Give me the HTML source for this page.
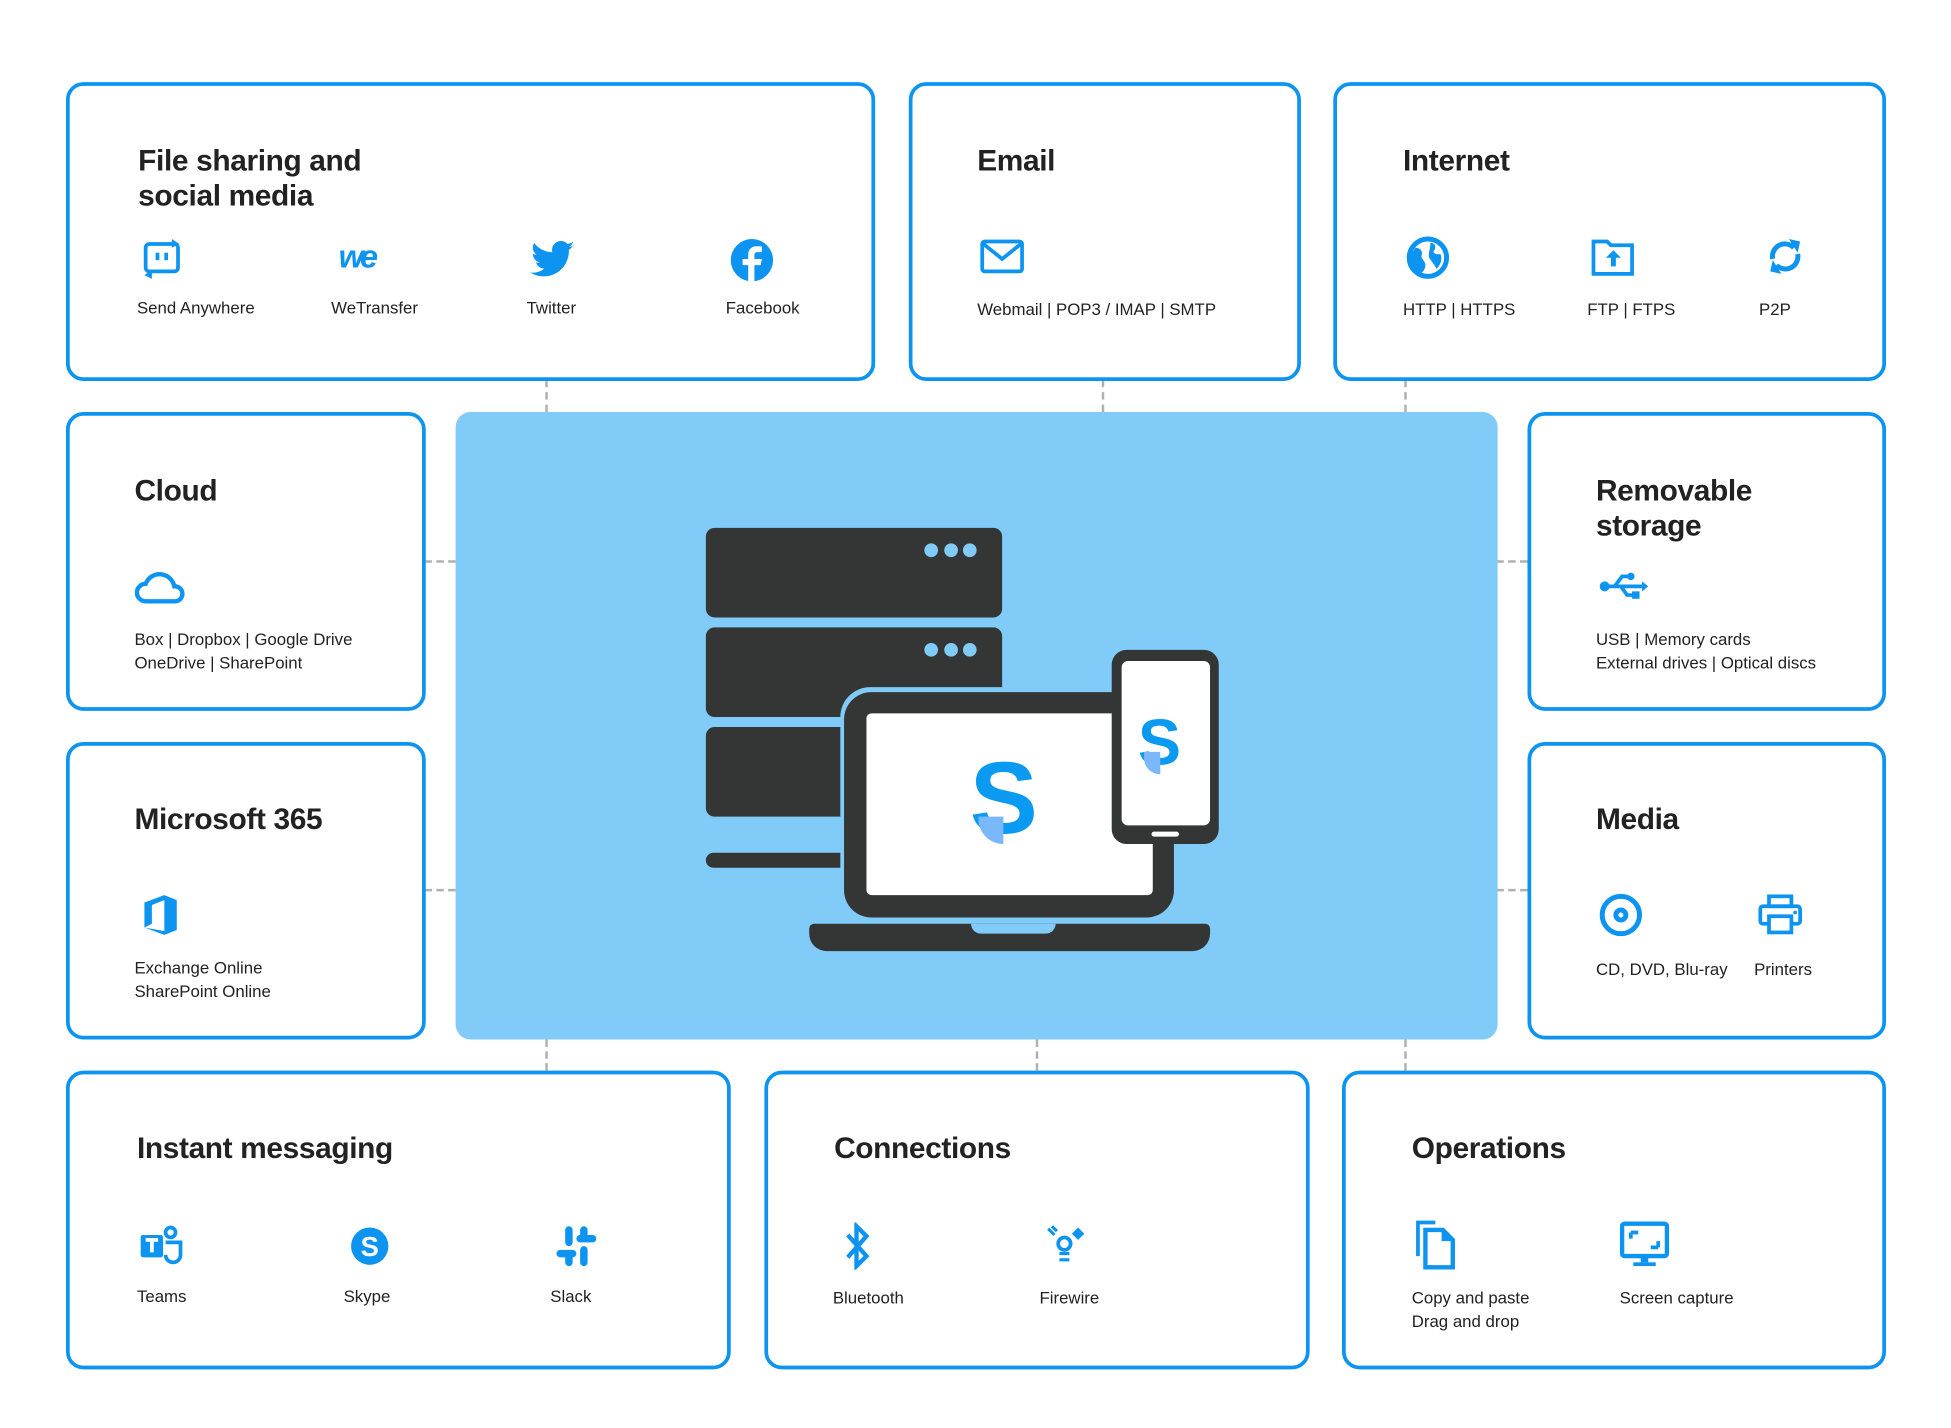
<!DOCTYPE html>
<html><head><meta charset="utf-8"><style>
html,body{margin:0;padding:0;background:#fff;width:1951px;height:1428px;overflow:hidden}
#w{position:absolute;left:0;top:0;width:1560px;height:1142px;transform:scale(1.2449);transform-origin:0 0;font-family:"Liberation Sans",sans-serif;color:#222}
.b{position:absolute;border:3px solid #0d94f0;border-radius:14px;box-sizing:border-box;background:#fff}
.t{position:absolute;font-size:24px;font-weight:bold;line-height:28px;letter-spacing:-0.3px}
.l{position:absolute;font-size:13.5px;line-height:19px;white-space:nowrap}
.i{position:absolute}
.dv{position:absolute;width:0;border-left:2px dashed #b0b0b0}
.dh{position:absolute;height:0;border-top:2px dashed #b0b0b0}
.k{position:absolute;background:#343636}
</style></head><body><div id="w">
<div class="dv" style="left:438px;top:305px;height:26px"></div>
<div class="dv" style="left:885px;top:305px;height:26px"></div>
<div class="dv" style="left:1128px;top:305px;height:26px"></div>
<div class="dv" style="left:438px;top:835px;height:25px"></div>
<div class="dv" style="left:832px;top:835px;height:25px"></div>
<div class="dv" style="left:1128px;top:835px;height:25px"></div>
<div class="dh" style="left:341px;top:450px;width:25px"></div>
<div class="dh" style="left:341px;top:714px;width:25px"></div>
<div class="dh" style="left:1202px;top:450px;width:25px"></div>
<div class="dh" style="left:1202px;top:714px;width:25px"></div>

<div class="b" style="left:53px;top:66px;width:650px;height:240px"></div>
<div class="t" style="left:111px;top:116px">File sharing and<br>social media</div>
<svg class="i" style="left:114px;top:191px" width="34" height="34" viewBox="0 0 34 34"><rect x="3" y="5" width="26" height="22" rx="3" fill="none" stroke="#0d94f0" stroke-width="3"/><rect x="11" y="12" width="3" height="6" fill="#0d94f0"/><rect x="18" y="12" width="3" height="6" fill="#0d94f0"/><path d="M24 1l6 4-6 3z M8 26l-6 4 6 3z" fill="#0d94f0"/></svg>
<div class="l" style="left:110px;top:238px">Send Anywhere</div>
<div class="i" style="left:272px;top:191px;font-size:26px;font-weight:bold;color:#0d94f0;letter-spacing:-3px;font-style:italic">we</div>
<div class="l" style="left:266px;top:238px">WeTransfer</div>
<svg class="i" style="left:425px;top:193px" width="38" height="32" viewBox="0 0 24 20"><path d="M23 2.5c-.8.4-1.7.6-2.6.7.9-.6 1.6-1.4 2-2.5-.9.5-1.9.9-2.9 1.1A4.5 4.5 0 0 0 11.8 6 12.8 12.8 0 0 1 2.5 1.3a4.5 4.5 0 0 0 1.4 6c-.7 0-1.4-.2-2-.6 0 2.2 1.5 4 3.6 4.400-.7.2-1.4.2-2 .1.6 1.8 2.3 3.1 4.2 3.1A9 9 0 0 1 .5 16.2 12.8 12.8 0 0 0 7.4 18.2c8.3 0 12.8-6.9 12.8-12.8v-.6c.9-.6 1.6-1.4 2.2-2.3z" fill="#0d94f0"/></svg>
<div class="l" style="left:423px;top:238px">Twitter</div>
<svg class="i" style="left:586px;top:191px" width="36" height="36" viewBox="0 0 36 36"><circle cx="18" cy="18" r="17" fill="#0d94f0"/><path d="M20 36V22h5l1-5h-6v-3c0-1.500.5-2.500 2.600-2.500H26V7c-.6 0-2.300-.2-4.200-.2-4 0-6.800 2.400-6.800 7V17h-4.500v5H15v14z" fill="#fff"/></svg>
<div class="l" style="left:583px;top:238px">Facebook</div>

<div class="b" style="left:730px;top:66px;width:315px;height:240px"></div>
<div class="t" style="left:785px;top:116px">Email</div>
<svg class="i" style="left:787px;top:192px" width="36" height="28" viewBox="0 0 36 28"><rect x="2" y="2" width="32" height="24" rx="2" fill="none" stroke="#0d94f0" stroke-width="3"/><path d="M3 4l15 12L33 4" fill="none" stroke="#0d94f0" stroke-width="3"/></svg>
<div class="l" style="left:785px;top:239px">Webmail | POP3 / IMAP | SMTP</div>

<div class="b" style="left:1071px;top:66px;width:444px;height:240px"></div>
<div class="t" style="left:1127px;top:116px">Internet</div>
<svg class="i" style="left:1129px;top:189px" width="36" height="36" viewBox="0 0 36 36"><circle cx="18" cy="18" r="15" fill="none" stroke="#0d94f0" stroke-width="4"/><path d="M8 10c4 0 6 3 5 6s3 4 3 8-3 6-3 6c-6-2-10-8-9-14zM20 6c4 0 5 4 3 6s2 4 5 3c2 4 0 9-3 12-2-4-4-6-6-9-1-4 1-6 1-12z" fill="#0d94f0"/></svg>
<div class="l" style="left:1127px;top:239px">HTTP | HTTPS</div>
<svg class="i" style="left:1278px;top:190px" width="36" height="32" viewBox="0 0 36 32"><path d="M2 4h11l3 3h17v23H2z" fill="none" stroke="#0d94f0" stroke-width="3"/><path d="M18 11l6 6h-4v7h-4v-7h-4z" fill="#0d94f0"/></svg>
<div class="l" style="left:1275px;top:239px">FTP | FTPS</div>
<svg class="i" style="left:1417px;top:188px" width="34" height="36" viewBox="0 0 34 36"><path d="M7 20a10 10 0 0 1 17-9" fill="none" stroke="#0d94f0" stroke-width="4"/><path d="M27 16a10 10 0 0 1-17 9" fill="none" stroke="#0d94f0" stroke-width="4"/><path d="M20 4l9 2-2 9z M14 32l-9-2 2-9z" fill="#0d94f0"/></svg>
<div class="l" style="left:1413px;top:239px">P2P</div>

<div class="b" style="left:53px;top:331px;width:289px;height:240px"></div>
<div class="t" style="left:108px;top:381px">Cloud</div>
<svg class="i" style="left:107px;top:455px" width="44" height="32" viewBox="0 0 44 32"><path d="M10 28a7 7 0 0 1 0-14 12 12 0 0 1 23 2 6 6 0 0 1 1 12z" fill="none" stroke="#0d94f0" stroke-width="3.5"/></svg>
<div class="l" style="left:108px;top:504px">Box | Dropbox | Google Drive<br>OneDrive | SharePoint</div>

<div class="b" style="left:53px;top:596px;width:289px;height:239px"></div>
<div class="t" style="left:108px;top:645px">Microsoft 365</div>
<svg class="i" style="left:113px;top:718px" width="32" height="34" viewBox="0 0 32 34"><path d="M3 7L19 1l10 4v24l-10 4L3 27l16 3V5L9 9v15l-6 3z" fill="#0d94f0"/></svg>
<div class="l" style="left:108px;top:768px">Exchange Online<br>SharePoint Online</div>

<div class="b" style="left:1227px;top:331px;width:288px;height:240px"></div>
<div class="t" style="left:1282px;top:381px">Removable<br>storage</div>
<svg class="i" style="left:1284px;top:458px" width="40" height="26" viewBox="0 0 40 26"><circle cx="5" cy="13" r="4" fill="#0d94f0"/><path d="M5 13h30" stroke="#0d94f0" stroke-width="3"/><path d="M35 9l5 4-5 4z" fill="#0d94f0"/><path d="M13 13l6-8h6M18 13l5 7h5" fill="none" stroke="#0d94f0" stroke-width="3"/><circle cx="26" cy="5" r="3" fill="#0d94f0"/><rect x="27" y="17" width="6" height="6" fill="#0d94f0"/></svg>
<div class="l" style="left:1282px;top:504px">USB | Memory cards<br>External drives | Optical discs</div>

<div class="b" style="left:1227px;top:596px;width:288px;height:239px"></div>
<div class="t" style="left:1282px;top:645px">Media</div>
<svg class="i" style="left:1284px;top:717px" width="36" height="36" viewBox="0 0 36 36"><circle cx="18" cy="18" r="15" fill="none" stroke="#0d94f0" stroke-width="4"/><circle cx="18" cy="18" r="6" fill="#0d94f0"/><circle cx="18" cy="18" r="2" fill="#fff"/></svg>
<div class="l" style="left:1282px;top:769px">CD, DVD, Blu-ray</div>
<svg class="i" style="left:1412px;top:718px" width="36" height="34" viewBox="0 0 36 34"><rect x="9" y="2" width="18" height="8" fill="none" stroke="#0d94f0" stroke-width="3"/><rect x="2" y="10" width="32" height="14" rx="2" fill="none" stroke="#0d94f0" stroke-width="3"/><rect x="9" y="18" width="18" height="13" fill="#fff" stroke="#0d94f0" stroke-width="3"/><circle cx="30" cy="15" r="1.5" fill="#0d94f0"/></svg>
<div class="l" style="left:1409px;top:769px">Printers</div>

<div class="b" style="left:53px;top:860px;width:534px;height:240px"></div>
<div class="t" style="left:110px;top:909px">Instant messaging</div>
<svg class="i" style="left:111px;top:984px" width="38" height="34" viewBox="0 0 38 34"><rect x="2" y="8" width="18" height="18" rx="2" fill="#0d94f0"/><path d="M6 12h10M11 12v10" stroke="#fff" stroke-width="3"/><circle cx="26" cy="6" r="4" fill="none" stroke="#0d94f0" stroke-width="3"/><path d="M22 14h12v10a6 6 0 0 1-12 0" fill="none" stroke="#0d94f0" stroke-width="3"/></svg>
<div class="l" style="left:110px;top:1032px">Teams</div>
<svg class="i" style="left:280px;top:984px" width="34" height="34" viewBox="0 0 34 34"><circle cx="17" cy="17" r="15" fill="#0d94f0"/><text x="17" y="25" text-anchor="middle" font-family="Liberation Sans" font-weight="bold" font-size="22" fill="#fff">S</text></svg>
<div class="l" style="left:276px;top:1032px">Skype</div>
<svg class="i" style="left:446px;top:984px" width="34" height="34" viewBox="0 0 34 34"><g fill="#0d94f0"><rect x="8" y="1" width="6" height="16" rx="3"/><rect x="20" y="17" width="6" height="16" rx="3"/><rect x="17" y="8" width="16" height="6" rx="3"/><rect x="1" y="20" width="16" height="6" rx="3"/><rect x="20" y="1" width="6" height="10" rx="3"/><rect x="8" y="23" width="6" height="10" rx="3"/></g></svg>
<div class="l" style="left:442px;top:1032px">Slack</div>

<div class="b" style="left:614px;top:860px;width:438px;height:240px"></div>
<div class="t" style="left:670px;top:909px">Connections</div>
<svg class="i" style="left:676px;top:982px" width="26" height="38" viewBox="0 0 26 38"><path d="M5 10l15 17-8 8V3l8 8L5 28" fill="none" stroke="#0d94f0" stroke-width="3.5"/></svg>
<div class="l" style="left:669px;top:1033px">Bluetooth</div>
<svg class="i" style="left:840px;top:984px" width="34" height="34" viewBox="0 0 34 34"><circle cx="15" cy="15" r="5" fill="none" stroke="#0d94f0" stroke-width="3"/><path d="M2 3l5 5M5 1l4 4" stroke="#0d94f0" stroke-width="2.5"/><path d="M26 2l5 5-5 5-5-5z" fill="#0d94f0"/><path d="M11 23h8M11 28h8" stroke="#0d94f0" stroke-width="2.5"/></svg>
<div class="l" style="left:835px;top:1033px">Firewire</div>

<div class="b" style="left:1078px;top:860px;width:437px;height:240px"></div>
<div class="t" style="left:1134px;top:909px">Operations</div>
<svg class="i" style="left:1136px;top:979px" width="36" height="42" viewBox="0 0 36 42"><path d="M3 30V3h14" fill="none" stroke="#0d94f0" stroke-width="3"/><path d="M9 9h14l8 8v22H9z" fill="none" stroke="#0d94f0" stroke-width="3.5"/><path d="M22 9v9h9" fill="#0d94f0"/></svg>
<div class="l" style="left:1134px;top:1033px">Copy and paste<br>Drag and drop</div>
<svg class="i" style="left:1301px;top:981px" width="40" height="38" viewBox="0 0 40 38"><rect x="2" y="2" width="36" height="26" rx="2" fill="none" stroke="#0d94f0" stroke-width="3.5"/><path d="M9 9h6M9 9v5M31 21h-6M31 21v-5" stroke="#0d94f0" stroke-width="3"/><rect x="17" y="28" width="6" height="5" fill="#0d94f0"/><rect x="11" y="33" width="18" height="3" fill="#0d94f0"/></svg>
<div class="l" style="left:1301px;top:1033px">Screen capture</div>

<div style="position:absolute;left:366px;top:331px;width:837px;height:504px;background:#80cbf8;border-radius:12px"></div>
<div class="k" style="left:567px;top:424px;width:238px;height:72px;border-radius:7px"></div>
<div class="k" style="left:567px;top:504px;width:238px;height:72px;border-radius:7px"></div>
<div class="k" style="left:567px;top:584px;width:112px;height:72px;border-radius:7px 0 0 7px"></div>
<div class="k" style="left:567px;top:685px;width:112px;height:12px;border-radius:6px 0 0 6px"></div>
<svg class="i" style="left:740px;top:435px" width="50" height="14"><g fill="#80cbf8"><circle cx="8" cy="7" r="5.5"/><circle cx="24" cy="7" r="5.5"/><circle cx="39" cy="7" r="5.5"/></g></svg>
<svg class="i" style="left:740px;top:515px" width="50" height="14"><g fill="#80cbf8"><circle cx="8" cy="7" r="5.5"/><circle cx="24" cy="7" r="5.5"/><circle cx="39" cy="7" r="5.5"/></g></svg>
<div style="position:absolute;left:675px;top:552px;width:272px;height:188px;border-radius:24px;background:#80cbf8"></div>
<div class="k" style="left:678px;top:556px;width:265px;height:181px;border-radius:22px"></div>
<div style="position:absolute;left:696px;top:573px;width:230px;height:146px;background:#fff;border-radius:4px"></div>
<div class="k" style="left:650px;top:742px;width:322px;height:22px;border-radius:4px 4px 14px 14px"></div>
<div style="position:absolute;left:780px;top:742px;width:68px;height:8px;background:#80cbf8;border-radius:0 0 8px 8px"></div>
<div class="k" style="left:893px;top:522px;width:86px;height:156px;border-radius:12px"></div>
<div style="position:absolute;left:901px;top:531px;width:71px;height:132px;background:#fff;border-radius:5px"></div>
<div style="position:absolute;left:925px;top:668px;width:22px;height:4px;background:#fff;border-radius:2px"></div>
<div style="position:absolute;left:779px;top:597px;font-size:82px;font-weight:bold;color:#0a9af2;line-height:90px">S</div>
<div style="position:absolute;left:786px;top:656px;width:20px;height:22px;background:#7ab8fb;border-radius:0 0 0 20px"></div>
<div style="position:absolute;left:914px;top:567px;font-size:52px;font-weight:bold;color:#0a9af2;line-height:60px">S</div>
<div style="position:absolute;left:919px;top:604px;width:13px;height:18px;background:#7ab8fb;border-radius:0 0 0 14px"></div>
</div></body></html>
